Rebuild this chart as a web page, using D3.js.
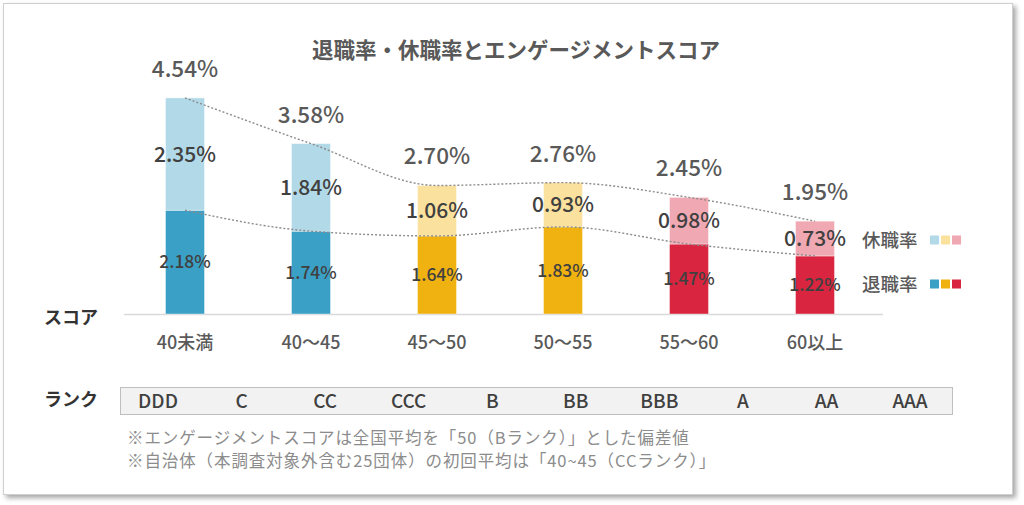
<!DOCTYPE html>
<html>
<head>
<meta charset="utf-8">
<script src="https://cdn.jsdelivr.net/npm/d3@7"></script>
<style>
  html, body { margin: 0; padding: 0; background: #fff; }
  svg text { font-family: "Noto Sans CJK JP", "Noto Sans", sans-serif; }
</style>
</head>
<body>
<div id="chart"></div>
<script>
// Data
const categories  = ["40未満", "40～45", "45～50", "50～55", "55～60", "60以上"];
const retireRate  = [2.18, 1.74, 1.64, 1.83, 1.47, 1.22];   // 退職率
const leaveRate   = [2.35, 1.84, 1.06, 0.93, 0.98, 0.73];   // 休職率
const totalRate   = [4.54, 3.58, 2.70, 2.76, 2.45, 1.95];
const ranks       = ["DDD", "C", "CC", "CCC", "B", "BB", "BBB", "A", "AA", "AAA"];
const notes = [
  "※エンゲージメントスコアは全国平均を「50（Bランク）」とした偏差値",
  "※自治体（本調査対象外含む25団体）の初回平均は「40~45（CCランク）」"
];

// Colour per category (dark = 退職率, light = 休職率)
const darkCol  = ["#3ba0c6", "#3ba0c6", "#efb211", "#efb211", "#d9253f", "#d9253f"];
const lightCol = ["#b2d9e8", "#b2d9e8", "#fae19d", "#fae19d", "#f0a8b3", "#f0a8b3"];

const W = 1024, H = 505;
const svg = d3.select("#chart").append("svg")
  .attr("width", W).attr("height", H);

// Frame with shadow
const defs = svg.append("defs");
defs.append("filter").attr("id", "shadow")
  .attr("x", "-5%").attr("y", "-5%").attr("width", "110%").attr("height", "115%")
  .append("feDropShadow")
    .attr("dx", 3).attr("dy", 3).attr("stdDeviation", 2.5)
    .attr("flood-color", "#000").attr("flood-opacity", 0.35);

svg.append("rect")
  .attr("x", 3.5).attr("y", 3.5)
  .attr("width", 1009).attr("height", 491)
  .attr("fill", "#fff")
  .attr("stroke", "#cfcfcf")
  .attr("filter", "url(#shadow)");

// Title
svg.append("text")
  .attr("x", 516).attr("y", 58)
  .attr("text-anchor", "middle")
  .attr("font-size", 21.5).attr("font-weight", 700)
  .attr("fill", "#595959")
  .text("退職率・休職率とエンゲージメントスコア");

// Scales
const x = d3.scalePoint().domain(categories).range([185, 815]);
const baseY = 314;
const y = d3.scaleLinear().domain([0, 5]).range([baseY, baseY - 5 * 47.6]);
const barW = 39;

// Axis line
svg.append("line")
  .attr("x1", 124).attr("x2", 883)
  .attr("y1", baseY + 0.5).attr("y2", baseY + 0.5)
  .attr("stroke", "#d9d9d9").attr("stroke-width", 1.5);

// Bars
const bars = svg.append("g");
categories.forEach((c, i) => {
  const cx = x(c);
  // 退職率
  bars.append("rect")
    .attr("x", cx - barW / 2).attr("width", barW)
    .attr("y", y(retireRate[i]))
    .attr("height", y(0) - y(retireRate[i]))
    .attr("fill", darkCol[i])
    .attr("stroke", "#fff").attr("stroke-opacity", 0.5).attr("stroke-width", 0.8);
  // 休職率
  bars.append("rect")
    .attr("x", cx - barW / 2).attr("width", barW)
    .attr("y", y(totalRate[i]))
    .attr("height", y(retireRate[i]) - y(totalRate[i]))
    .attr("fill", lightCol[i])
    .attr("stroke", "#fff").attr("stroke-opacity", 0.5).attr("stroke-width", 0.8);
});

// Dotted trend lines
const line = d3.line().curve(d3.curveMonotoneX);
[totalRate, retireRate].forEach(vals => {
  svg.append("path")
    .attr("d", line(categories.map((c, i) => [x(c), y(vals[i])])))
    .attr("fill", "none")
    .attr("stroke", "#8c8c8c")
    .attr("stroke-width", 1.4)
    .attr("stroke-dasharray", "2,2");
});

const pct = d3.format(".2f");

// Total labels
svg.append("g").selectAll("text")
  .data(categories)
  .join("text")
    .attr("x", d => x(d))
    .attr("y", (d, i) => y(totalRate[i]) - 21)
    .attr("text-anchor", "middle")
    .attr("font-size", 22.5).attr("font-weight", 500)
    .attr("fill", "#595959")
    .text((d, i) => pct(totalRate[i]) + "%");

// 休職率 labels
svg.append("g").selectAll("text")
  .data(categories)
  .join("text")
    .attr("x", d => x(d))
    .attr("y", (d, i) => (y(totalRate[i]) + y(retireRate[i])) / 2)
    .attr("dy", "0.36em")
    .attr("text-anchor", "middle")
    .attr("font-size", 21).attr("font-weight", 500)
    .attr("fill", "#404040")
    .text((d, i) => pct(leaveRate[i]) + "%");

// 退職率 labels
svg.append("g").selectAll("text")
  .data(categories)
  .join("text")
    .attr("x", d => x(d))
    .attr("y", (d, i) => (y(retireRate[i]) + y(0)) / 2)
    .attr("dy", "0.36em")
    .attr("text-anchor", "middle")
    .attr("font-size", 17.5).attr("font-weight", 500)
    .attr("fill", "#404040")
    .text((d, i) => pct(retireRate[i]) + "%");

// Category labels
svg.append("g").selectAll("text")
  .data(categories)
  .join("text")
    .attr("x", d => x(d))
    .attr("y", 343).attr("dy", "0.36em")
    .attr("text-anchor", "middle")
    .attr("font-size", 18).attr("font-weight", 500)
    .attr("fill", "#595959")
    .text(d => d);

// Row headings
svg.append("text")
  .attr("x", 44).attr("y", 318).attr("dy", "0.36em")
  .attr("font-size", 18).attr("font-weight", 700)
  .attr("fill", "#333")
  .text("スコア");
svg.append("text")
  .attr("x", 44).attr("y", 400).attr("dy", "0.36em")
  .attr("font-size", 18).attr("font-weight", 700)
  .attr("fill", "#333")
  .text("ランク");

// Legend
const legendItems = [
  { label: "休職率", cols: [lightCol[0], lightCol[2], lightCol[4]], y: 240 },
  { label: "退職率", cols: [darkCol[0],  darkCol[2],  darkCol[4]],  y: 284 }
];
legendItems.forEach(it => {
  svg.append("text")
    .attr("x", 862).attr("y", it.y).attr("dy", "0.36em")
    .attr("font-size", 18.5).attr("font-weight", 500)
    .attr("fill", "#595959")
    .text(it.label);
  it.cols.forEach((c, k) => {
    svg.append("rect")
      .attr("x", 930 + k * 11).attr("y", it.y - 4.5)
      .attr("width", 9).attr("height", 9)
      .attr("fill", c);
  });
});

// Rank box
svg.append("rect")
  .attr("x", 120.5).attr("y", 387.5)
  .attr("width", 832).attr("height", 27)
  .attr("fill", "#f2f2f2")
  .attr("stroke", "#bfbfbf");

const xr = d3.scalePoint().domain(ranks).range([158, 910]);
svg.append("g").selectAll("text")
  .data(ranks)
  .join("text")
    .attr("x", d => xr(d))
    .attr("y", 401).attr("dy", "0.36em")
    .attr("text-anchor", "middle")
    .attr("font-size", 19).attr("font-weight", 500)
    .attr("fill", "#404040")
    .text(d => d);

// Notes
svg.append("g").selectAll("text")
  .data(notes)
  .join("text")
    .attr("x", 127)
    .attr("y", (d, i) => 438 + i * 23).attr("dy", "0.36em")
    .attr("font-size", 16.5)
    .attr("letter-spacing", 0.9)
    .attr("fill", "#8c8c8c")
    .text(d => d);
</script>
</body>
</html>
